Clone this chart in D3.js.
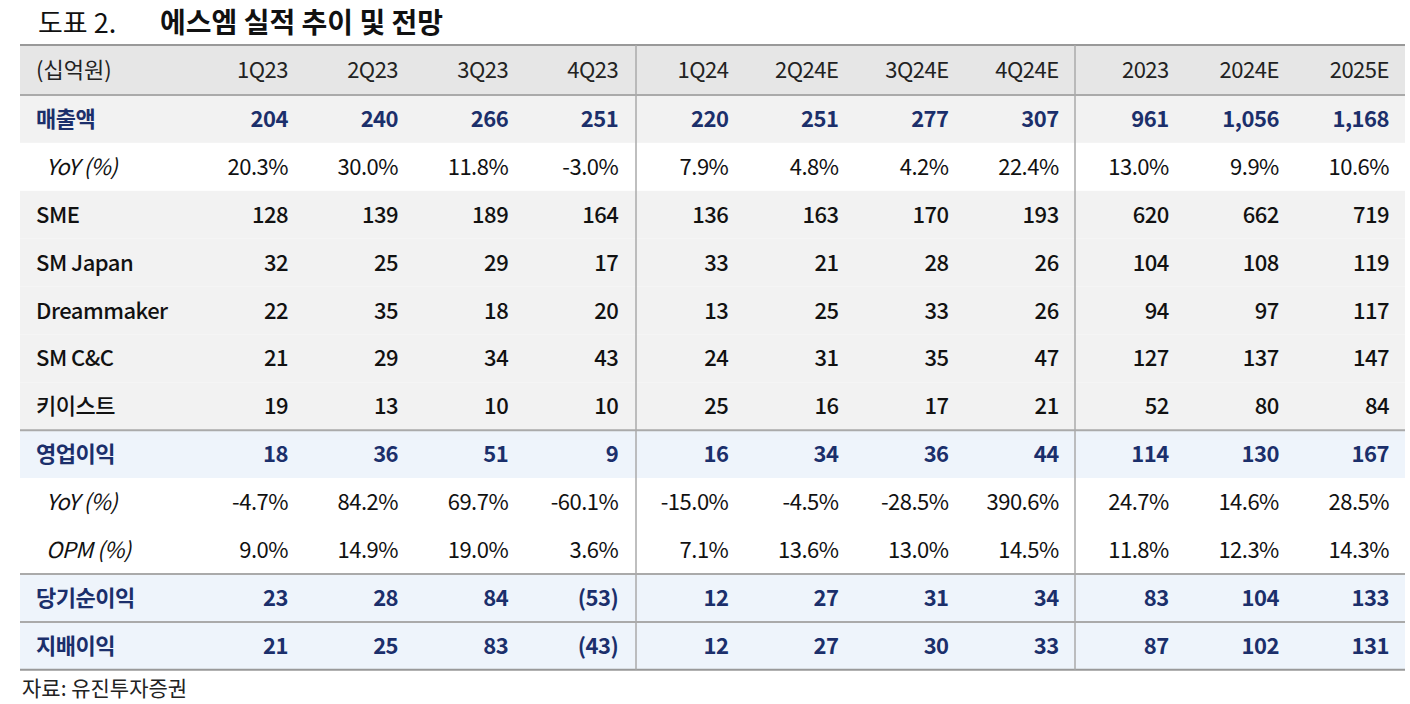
<!DOCTYPE html>
<html><head><meta charset="utf-8">
<script src="https://cdn.jsdelivr.net/npm/d3@7"></script>
<style>body{margin:0;background:#fff}svg{display:block}</style>
</head><body>
<svg id="chart" width="1410" height="704"></svg>
<script>
var columns = ["1Q23","2Q23","3Q23","4Q23","1Q24","2Q24E","3Q24E","4Q24E","2023","2024E","2025E"];
var rowLabels = ["매출액","YoY (%)","SME","SM Japan","Dreammaker","SM C&C","키이스트","영업이익","YoY (%)","OPM (%)","당기순이익","지배이익"];
var rowKinds = ["main","pct","sub","sub","sub","sub","sub","op","pct","pct","op","op"];
var sales = ["204","240","266","251","220","251","277","307","961","1,056","1,168"];
var salesYoy = ["20.3%","30.0%","11.8%","-3.0%","7.9%","4.8%","4.2%","22.4%","13.0%","9.9%","10.6%"];
var sme = ["128","139","189","164","136","163","170","193","620","662","719"];
var smJapan = ["32","25","29","17","33","21","28","26","104","108","119"];
var dreammaker = ["22","35","18","20","13","25","33","26","94","97","117"];
var smcc = ["21","29","34","43","24","31","35","47","127","137","147"];
var keyeast = ["19","13","10","10","25","16","17","21","52","80","84"];
var opProfit = ["18","36","51","9","16","34","36","44","114","130","167"];
var opYoy = ["-4.7%","84.2%","69.7%","-60.1%","-15.0%","-4.5%","-28.5%","390.6%","24.7%","14.6%","28.5%"];
var opm = ["9.0%","14.9%","19.0%","3.6%","7.1%","13.6%","13.0%","14.5%","11.8%","12.3%","14.3%"];
var netIncome = ["23","28","84","(53)","12","27","31","34","83","104","133"];
var ctrlIncome = ["21","25","83","(43)","12","27","30","33","87","102","131"];
var values = [sales,salesYoy,sme,smJapan,dreammaker,smcc,keyeast,opProfit,opYoy,opm,netIncome,ctrlIncome];

var svg = d3.select("#chart");
var font = "'Noto Sans CJK KR', 'Noto Sans', sans-serif";
var navy = "#1b2f6b";
var left = 20, right = 1405, top0 = 45, headH = 50, rowH = 47.9;

// column right edges
var x = d3.scalePoint().domain(columns).range([288, 1389]);
var y = d3.scaleBand().domain(d3.range(rowLabels.length)).range([top0 + headH, top0 + headH + rowH * rowLabels.length]);

svg.append("text").attr("x", 38).attr("y", 33).attr("font-family", font).attr("font-size", 27)
  .attr("fill", "#111").text("도표 2.");
svg.append("text").attr("x", 160).attr("y", 33).attr("font-family", font).attr("font-size", 28)
  .attr("font-weight", "bold").attr("fill", "#111").text("에스엠 실적 추이 및 전망");

// header band
svg.append("rect").attr("x", left).attr("y", top0).attr("width", right - left).attr("height", headH).attr("fill", "#e6e6e6");

var fills = {main: "#f2f2f2", pct: "#ffffff", sub: "#f2f2f2", op: "#eef4fb"};
rowKinds.forEach(function(k, i){
  svg.append("rect").attr("x", left).attr("y", y(i)).attr("width", right - left).attr("height", y.bandwidth()).attr("fill", fills[k]);
});

// horizontal rules
var ruleRows = [0, 7, 10, 11];
svg.append("line").attr("x1", left).attr("x2", right).attr("y1", top0).attr("y2", top0).attr("stroke", "#999").attr("stroke-width", 2);
ruleRows.forEach(function(i){
  svg.append("line").attr("x1", left).attr("x2", right).attr("y1", y(i)).attr("y2", y(i)).attr("stroke", "#aaa").attr("stroke-width", 2);
});
var bottom = y(rowLabels.length - 1) + y.bandwidth();
svg.append("line").attr("x1", left).attr("x2", right).attr("y1", bottom).attr("y2", bottom).attr("stroke", "#999").attr("stroke-width", 2);

// vertical separators
[636, 1075].forEach(function(vx){
  svg.append("line").attr("x1", vx).attr("x2", vx).attr("y1", top0).attr("y2", bottom).attr("stroke", "#aaa").attr("stroke-width", 1.5);
});

// header text
svg.append("text").attr("x", 36).attr("y", top0 + headH / 2 + 8).attr("font-family", font).attr("font-size", 22)
  .attr("fill", "#222").text("(십억원)");
svg.selectAll(".hd").data(columns).enter().append("text")
  .attr("x", function(d){ return x(d); }).attr("y", top0 + headH / 2 + 8)
  .attr("text-anchor", "end").attr("font-family", font).attr("font-size", 22).attr("fill", "#222")
  .attr("letter-spacing", -0.5).text(function(d){ return d; });

// rows
rowLabels.forEach(function(lab, i){
  var k = rowKinds[i];
  var cy = y(i) + y.bandwidth() / 2 + 8;
  var isNavy = (k === "main" || k === "op");
  var weight = isNavy ? 600 : (k === "sub" ? 500 : "normal");
  svg.append("text").attr("x", k === "pct" ? 46 : 36).attr("y", cy)
    .attr("font-family", font).attr("font-size", 22).attr("letter-spacing", -0.5)
    .attr("fill", isNavy ? navy : "#111").attr("font-weight", weight)
    .attr("font-style", k === "pct" ? "italic" : "normal").text(lab);
  svg.selectAll(".r" + i).data(values[i]).enter().append("text")
    .attr("x", function(d, j){ return x(columns[j]); }).attr("y", cy)
    .attr("text-anchor", "end").attr("font-family", font).attr("font-size", 22).attr("letter-spacing", -0.5)
    .attr("fill", isNavy ? navy : "#111").attr("font-weight", weight)
    .text(function(d){ return d; });
});

svg.append("text").attr("x", 22).attr("y", 696).attr("font-family", font).attr("font-size", 21)
  .attr("fill", "#222").text("자료: 유진투자증권");
</script>
</body></html>
